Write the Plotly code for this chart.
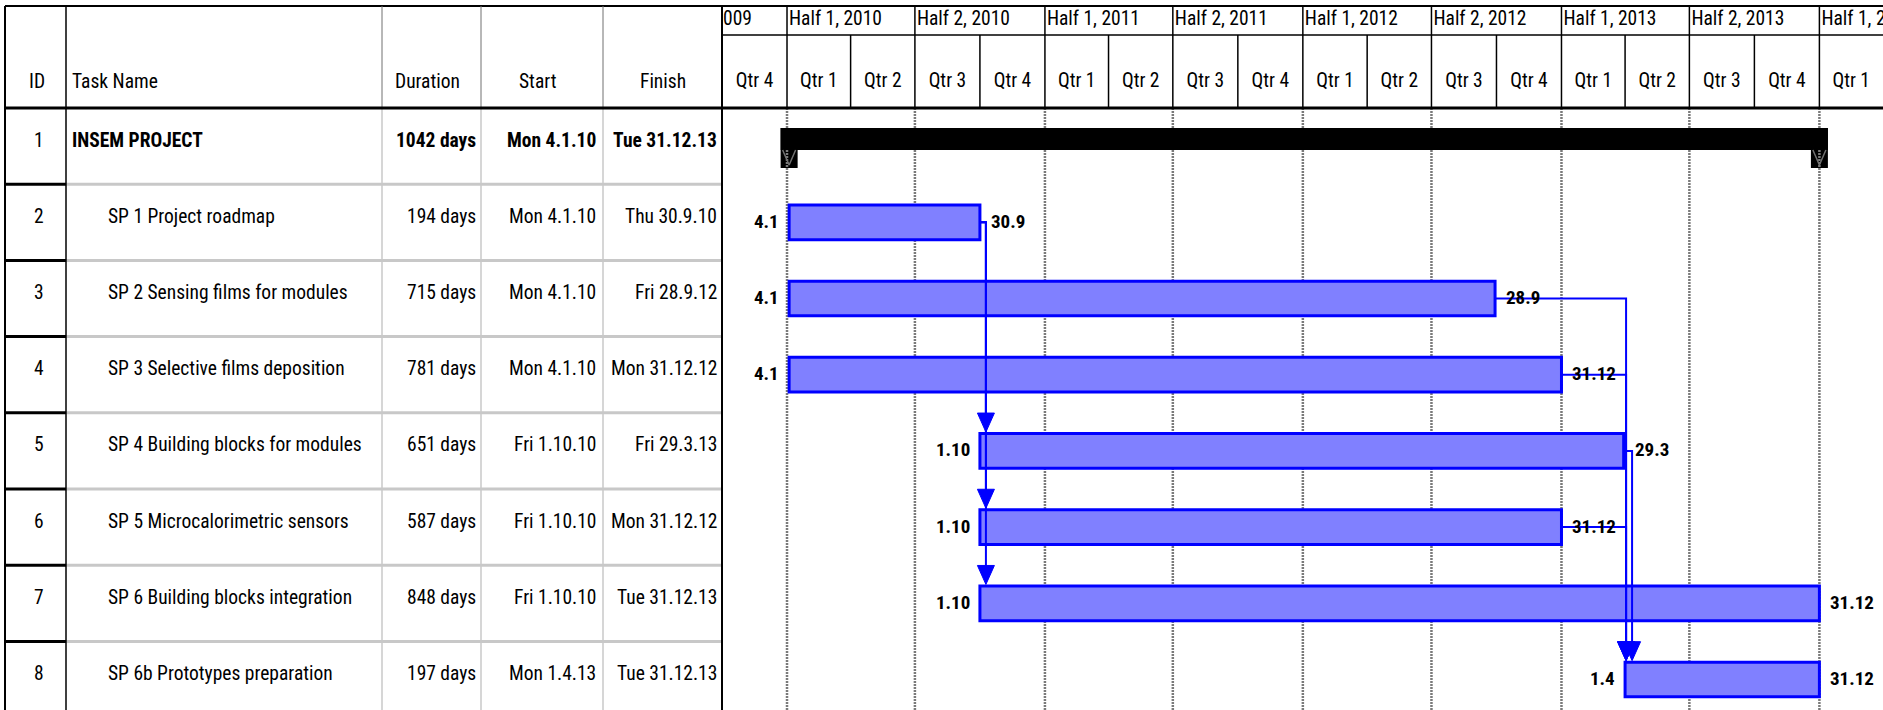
import plotly.graph_objects as go
from datetime import datetime, timedelta

# ---------------- data ----------------
task_ids = [1, 2, 3, 4, 5, 6, 7, 8]
task_names = [
    "INSEM PROJECT",
    "SP 1 Project roadmap",
    "SP 2 Sensing films for modules",
    "SP 3 Selective films deposition",
    "SP 4 Building blocks for modules",
    "SP 5 Microcalorimetric sensors",
    "SP 6 Building blocks integration",
    "SP 6b Prototypes preparation",
]
durations_days = [1042, 194, 715, 781, 651, 587, 848, 197]
start_dates = ["2010-01-04", "2010-01-04", "2010-01-04", "2010-01-04",
               "2010-10-01", "2010-10-01", "2010-10-01", "2013-04-01"]
finish_dates = ["2013-12-31", "2010-09-30", "2012-09-28", "2012-12-31",
                "2013-03-29", "2012-12-31", "2013-12-31", "2013-12-31"]
summary_tasks = [1]
links = [(2, 5), (2, 6), (2, 7), (3, 8), (4, 8), (5, 8), (6, 8)]

table_headers = ["ID", "Task Name", "Duration", "Start", "Finish"]
half_labels = ["Half 2, 2009", "Half 1, 2010", "Half 2, 2010", "Half 1, 2011", "Half 2, 2011",
               "Half 1, 2012", "Half 2, 2012", "Half 1, 2013", "Half 2, 2013", "Half 1, 2014"]
half_starts = ["2009-07-01", "2010-01-01", "2010-07-01", "2011-01-01", "2011-07-01",
               "2012-01-01", "2012-07-01", "2013-01-01", "2013-07-01", "2014-01-01"]
quarter_labels = ["Qtr 4",
                  "Qtr 1", "Qtr 2", "Qtr 3", "Qtr 4",
                  "Qtr 1", "Qtr 2", "Qtr 3", "Qtr 4",
                  "Qtr 1", "Qtr 2", "Qtr 3", "Qtr 4",
                  "Qtr 1", "Qtr 2", "Qtr 3", "Qtr 4",
                  "Qtr 1"]
quarter_starts = ["2009-10-01",
                  "2010-01-01", "2010-04-01", "2010-07-01", "2010-10-01",
                  "2011-01-01", "2011-04-01", "2011-07-01", "2011-10-01",
                  "2012-01-01", "2012-04-01", "2012-07-01", "2012-10-01",
                  "2013-01-01", "2013-04-01", "2013-07-01", "2013-10-01",
                  "2014-01-01"]

# ---------------- layout constants ----------------
W, H = 1883, 710
FONT = "'Roboto Condensed', 'Liberation Sans Narrow', 'Arial Narrow', 'DejaVu Sans Condensed', sans-serif"
FS = 19.5
FS_LBL = 19
COL_BORDERS = [5, 66, 382, 481, 603, 722]
HEAD_TOP, HEAD_MID, HEAD_BOT = 6, 35, 108
ROW_H = 76.2
X_RANGE = [datetime(2009, 10, 1), datetime(2014, 4, 1)]
CHART_LEFT = COL_BORDERS[-1]
PX_PER_DAY = (W - CHART_LEFT) / (X_RANGE[1] - X_RANGE[0]).days
BAR_W = 0.455
BAR_LINE = 3
BLUE = "#0000FF"
BAR_FILL = "#8080FF"
LINK_X_OFFSET_PX = {2: 6, 3: 1, 4: 1, 5: 7, 6: 1}
ARROW_HW, ARROW_H = 8.5, 19
CAP_HW = 8.5
SUM_TOP, SUM_BOT, CAP_BOT = 128, 150, 168


def ypx(py):
    return 0.5 + (py - HEAD_BOT) / ROW_H


def xp(px):
    return px / W


def yp(py):
    return 1 - py / H


def dshift(d, px):
    return d + timedelta(days=px / PX_PER_DAY)


starts = [datetime.fromisoformat(s) for s in start_dates]
finishes = [datetime.fromisoformat(s) for s in finish_dates]
ends = [f + timedelta(days=1) for f in finishes]
rows = [i + 1 for i in range(len(task_ids))]
row_of = {tid: r for tid, r in zip(task_ids, rows)}

fig = go.Figure()

# ---------------- task bars ----------------
sub_idx = [i for i, t in enumerate(task_ids) if t not in summary_tasks]
fig.add_trace(go.Bar(
    orientation="h",
    y=[rows[i] for i in sub_idx],
    base=[starts[i] for i in sub_idx],
    x=[(ends[i] - starts[i]).total_seconds() * 1000 for i in sub_idx],
    width=BAR_W,
    marker=dict(color=BAR_FILL, line=dict(color=BLUE, width=BAR_LINE)),
    hoverinfo="skip", showlegend=False,
))

# summary bar
shapes = []
for i, t in enumerate(task_ids):
    if t not in summary_tasks:
        continue
    b0 = dshift(starts[i], -CAP_HW)
    b1 = dshift(ends[i], CAP_HW)
    fig.add_trace(go.Bar(
        orientation="h", y=[rows[i]], base=[b0],
        x=[(b1 - b0).total_seconds() * 1000],
        offset=ypx(SUM_TOP) - rows[i], width=ypx(SUM_BOT) - ypx(SUM_TOP),
        marker=dict(color="black", line=dict(width=0)),
        hoverinfo="skip", showlegend=False,
    ))
    vx, vy = [], []
    for d in (starts[i], ends[i]):
        shapes.append(dict(type="rect", xref="x", yref="y", layer="below",
                           x0=dshift(d, -CAP_HW), x1=dshift(d, CAP_HW),
                           y0=ypx(SUM_TOP), y1=ypx(CAP_BOT),
                           fillcolor="black", line=dict(width=0)))
        vx += [dshift(d, -CAP_HW + 2), d, dshift(d, CAP_HW - 2), None]
        vy += [ypx(SUM_BOT), ypx(CAP_BOT - 3), ypx(SUM_BOT), None]
    fig.add_trace(go.Scatter(x=vx, y=vy, mode="lines",
                             line=dict(color="#707070", width=1.5),
                             hoverinfo="skip", showlegend=False))

# ---------------- dependency links ----------------
half_bar = (BAR_W * ROW_H + BAR_LINE) / 2 / ROW_H
lx, ly, ax, ay = [], [], [], []
for p, s in links:
    ip, is_ = task_ids.index(p), task_ids.index(s)
    xv = dshift(starts[is_], LINK_X_OFFSET_PX[p])
    y_tip = row_of[s] - half_bar
    y_base = y_tip - ARROW_H / ROW_H
    lx += [ends[ip], xv, xv, None]
    ly += [row_of[p], row_of[p], y_base + 0.02, None]
    ax += [dshift(xv, -ARROW_HW), dshift(xv, ARROW_HW), xv, dshift(xv, -ARROW_HW), None]
    ay += [y_base, y_base, y_tip, y_base, None]
fig.add_trace(go.Scatter(x=lx, y=ly, mode="lines", line=dict(color=BLUE, width=2),
                         hoverinfo="skip", showlegend=False))
fig.add_trace(go.Scatter(x=ax, y=ay, mode="lines", fill="toself", fillcolor=BLUE,
                         line=dict(color=BLUE, width=1),
                         hoverinfo="skip", showlegend=False))

# ---------------- timescale header labels ----------------
hs = [datetime.fromisoformat(s) for s in half_starts]
qs = [datetime.fromisoformat(s) for s in quarter_starts]
q_ends = qs[1:] + [X_RANGE[1]]
fig.add_trace(go.Scatter(
    x=[dshift(d, 2) for d in hs], y=[ypx(20)] * len(hs), mode="text",
    text=half_labels, textposition="middle right", cliponaxis=True,
    textfont=dict(family=FONT, size=FS, color="black"),
    hoverinfo="skip", showlegend=False))
fig.add_trace(go.Scatter(
    x=[a + (b - a) / 2 for a, b in zip(qs, q_ends)], y=[ypx(82)] * len(qs), mode="text",
    text=quarter_labels, textposition="middle center", cliponaxis=True,
    textfont=dict(family=FONT, size=FS, color="black"),
    hoverinfo="skip", showlegend=False))

# ---------------- grid / header lines (timescale) ----------------
for d in hs:
    if d <= X_RANGE[0]:
        continue
    shapes.append(dict(type="line", xref="x", yref="y", layer="below",
                       x0=d, x1=d, y0=ypx(HEAD_BOT), y1=ypx(H),
                       line=dict(color="#7A7A7A", width=2.5, dash="2px,1px")))
    shapes.append(dict(type="line", xref="x", yref="paper", layer="above",
                       x0=d, x1=d, y0=yp(HEAD_TOP), y1=yp(HEAD_BOT),
                       line=dict(color="black", width=1.5)))
for d in qs:
    if d <= X_RANGE[0] or d in hs:
        continue
    shapes.append(dict(type="line", xref="x", yref="paper", layer="above",
                       x0=d, x1=d, y0=yp(HEAD_MID), y1=yp(HEAD_BOT),
                       line=dict(color="black", width=1.5)))
shapes.append(dict(type="line", xref="paper", yref="paper",
                   x0=xp(CHART_LEFT), x1=1, y0=yp(HEAD_MID), y1=yp(HEAD_MID),
                   line=dict(color="black", width=1.5)))

# ---------------- table lines ----------------
shapes.append(dict(type="line", xref="paper", yref="paper",
                   x0=xp(COL_BORDERS[0]), x1=1, y0=yp(HEAD_TOP), y1=yp(HEAD_TOP),
                   line=dict(color="black", width=2)))
n_rows_vis = int((H - HEAD_BOT) // ROW_H) + 1
for k in range(1, n_rows_vis):
    py = HEAD_BOT + k * ROW_H
    shapes.append(dict(type="line", xref="paper", yref="paper",
                       x0=xp(COL_BORDERS[1]), x1=xp(COL_BORDERS[-1]), y0=yp(py), y1=yp(py),
                       line=dict(color="#C8C8C8", width=3)))
    shapes.append(dict(type="line", xref="paper", yref="paper",
                       x0=xp(COL_BORDERS[0]), x1=xp(COL_BORDERS[1]), y0=yp(py), y1=yp(py),
                       line=dict(color="black", width=3)))
for j, cx in enumerate(COL_BORDERS):
    if j in (0, 1, len(COL_BORDERS) - 1):
        shapes.append(dict(type="line", xref="paper", yref="paper",
                           x0=xp(cx), x1=xp(cx), y0=yp(HEAD_TOP), y1=0,
                           line=dict(color="black", width=2 if j != 1 else 1.5)))
    else:
        shapes.append(dict(type="line", xref="paper", yref="paper",
                           x0=xp(cx), x1=xp(cx), y0=yp(HEAD_TOP), y1=yp(HEAD_BOT),
                           line=dict(color="#707070", width=1)))
        shapes.append(dict(type="line", xref="paper", yref="paper",
                           x0=xp(cx), x1=xp(cx), y0=yp(HEAD_BOT), y1=0,
                           line=dict(color="#C8C8C8", width=1.5)))
shapes.append(dict(type="line", xref="paper", yref="paper",
                   x0=xp(COL_BORDERS[0]), x1=1, y0=yp(HEAD_BOT), y1=yp(HEAD_BOT),
                   line=dict(color="black", width=3)))

# ---------------- table text ----------------
ann = []
font = dict(family=FONT, size=FS, color="black")
lfont = dict(family=FONT, size=FS_LBL, color="black")
head_pos = [(37, "center"), (70, "left"), (427, "center"), (538, "center"), (663, "center")]
for txt, (x, anc) in zip(table_headers, head_pos):
    ann.append(dict(text=txt, xref="paper", yref="paper", x=xp(x), y=yp(82),
                    xanchor=anc, yanchor="middle", showarrow=False, font=font))


def fmt_table_date(d):
    return f"{d.strftime('%a')} {d.day}.{d.month}.{d.strftime('%y')}"


for i, tid in enumerate(task_ids):
    summ = tid in summary_tasks
    wrap = (lambda s: f"<b>{s}</b>") if summ else (lambda s: s)
    cells = [
        (str(tid), 39, "center"),
        (wrap(task_names[i]), 70 if summ else 106, "left"),
        (wrap(f"{durations_days[i]} days"), 478, "right"),
        (wrap(fmt_table_date(starts[i])), 598, "right"),
        (wrap(fmt_table_date(finishes[i])), 719, "right"),
    ]
    for txt, x, anc in cells:
        ann.append(dict(text=txt, xref="paper", yref="y", x=xp(x), y=rows[i], yshift=6,
                        xanchor=anc, yanchor="middle", showarrow=False, font=font))
    if not summ:
        ann.append(dict(text=f"<b>{starts[i].day}.{starts[i].month}</b>", xref="x", yref="y",
                        x=starts[i], y=rows[i], xanchor="right", xshift=-8, yshift=1,
                        yanchor="middle", showarrow=False, font=lfont))
        ann.append(dict(text=f"<b>{finishes[i].day}.{finishes[i].month}</b>", xref="x", yref="y",
                        x=ends[i], y=rows[i], xanchor="left", xshift=9, yshift=1,
                        yanchor="middle", showarrow=False, font=lfont))

fig.update_layout(
    width=W, height=H,
    margin=dict(l=0, r=0, t=0, b=0),
    paper_bgcolor="white", plot_bgcolor="white",
    xaxis=dict(type="date", domain=[xp(CHART_LEFT), 1], range=X_RANGE,
               visible=False, showgrid=False, zeroline=False),
    yaxis=dict(domain=[0, 1], range=[ypx(H), ypx(0)], visible=False,
               showgrid=False, zeroline=False),
    barmode="overlay",
    shapes=shapes,
    annotations=ann,
    showlegend=False,
)

fig.write_html("out.html", config={"displayModeBar": False},
               post_script="document.body.style.margin='0px';")
